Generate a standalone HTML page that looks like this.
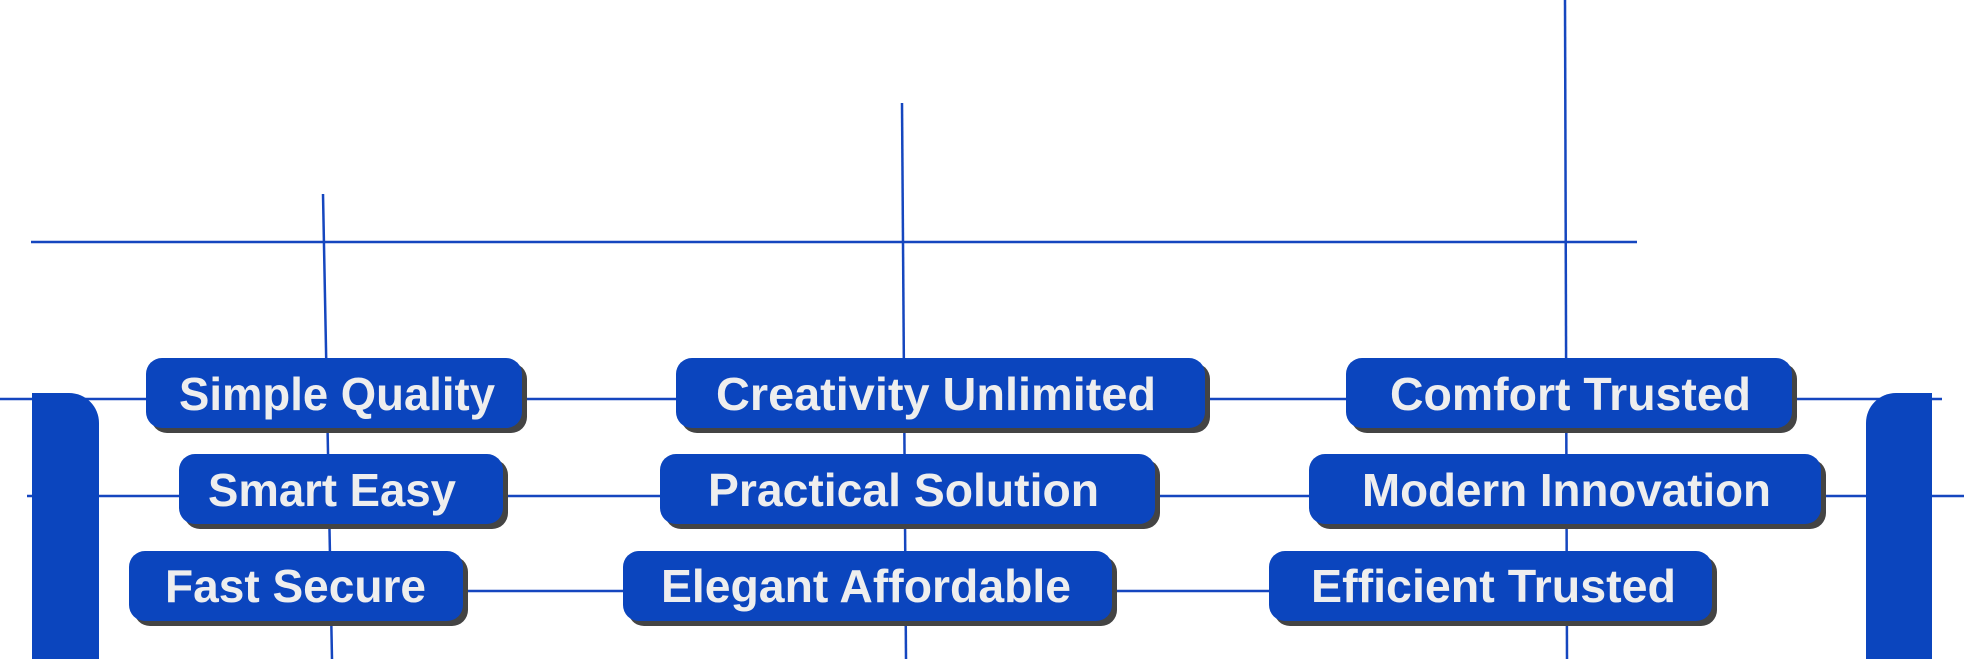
<!DOCTYPE html>
<html><head><meta charset="utf-8"><style>
html,body{margin:0;padding:0;background:#fff;}
svg{display:block}
text{font-family:"Liberation Sans",sans-serif;font-weight:bold;font-size:46px;fill:#eeeeee}
</style></head><body>
<svg width="1964" height="659" viewBox="0 0 1964 659" xmlns="http://www.w3.org/2000/svg">
<g stroke="#1546bf" stroke-width="2.5" fill="none">
<line x1="31" y1="242" x2="1637" y2="242"/>
<line x1="323" y1="194" x2="332" y2="659"/>
<line x1="902" y1="103" x2="906" y2="659"/>
<line x1="1565" y1="0" x2="1567" y2="659"/>
<line x1="0" y1="399" x2="1942" y2="399"/>
<line x1="27" y1="496" x2="1964" y2="496"/>
<line x1="440" y1="591" x2="1290" y2="591"/>
</g>
<path d="M32 393 H69 A30 30 0 0 1 99 423 V659 H32 Z" fill="#0b45be"/>
<path d="M1932 393 H1896 A30 30 0 0 0 1866 423 V659 H1932 Z" fill="#0b45be"/>
<g fill="#444">
<rect x="151" y="363" width="376" height="70" rx="16"/>
<rect x="184" y="459" width="324" height="70" rx="16"/>
<rect x="134" y="556" width="334" height="70" rx="16"/>
<rect x="681" y="363" width="529" height="70" rx="16"/>
<rect x="665" y="459" width="495" height="70" rx="16"/>
<rect x="628" y="556" width="489" height="70" rx="16"/>
<rect x="1351" y="363" width="446" height="70" rx="16"/>
<rect x="1314" y="459" width="512" height="70" rx="16"/>
<rect x="1274" y="556" width="443" height="70" rx="16"/>
</g>
<g fill="#0b45be">
<rect x="146" y="358" width="376" height="70" rx="16"/>
<rect x="179" y="454" width="324" height="70" rx="16"/>
<rect x="129" y="551" width="334" height="70" rx="16"/>
<rect x="676" y="358" width="529" height="70" rx="16"/>
<rect x="660" y="454" width="495" height="70" rx="16"/>
<rect x="623" y="551" width="489" height="70" rx="16"/>
<rect x="1346" y="358" width="446" height="70" rx="16"/>
<rect x="1309" y="454" width="512" height="70" rx="16"/>
<rect x="1269" y="551" width="443" height="70" rx="16"/>
</g>
<text x="179" y="410" textLength="316" lengthAdjust="spacingAndGlyphs">Simple Quality</text>
<text x="208" y="506" textLength="248" lengthAdjust="spacingAndGlyphs">Smart Easy</text>
<text x="165" y="602" textLength="261" lengthAdjust="spacingAndGlyphs">Fast Secure</text>
<text x="716" y="410" textLength="440" lengthAdjust="spacingAndGlyphs">Creativity Unlimited</text>
<text x="708" y="506" textLength="391" lengthAdjust="spacingAndGlyphs">Practical Solution</text>
<text x="661" y="602" textLength="410" lengthAdjust="spacingAndGlyphs">Elegant Affordable</text>
<text x="1390" y="410" textLength="361" lengthAdjust="spacingAndGlyphs">Comfort Trusted</text>
<text x="1362" y="506" textLength="409" lengthAdjust="spacingAndGlyphs">Modern Innovation</text>
<text x="1311" y="602" textLength="365" lengthAdjust="spacingAndGlyphs">Efficient Trusted</text>
</svg>
</body></html>
